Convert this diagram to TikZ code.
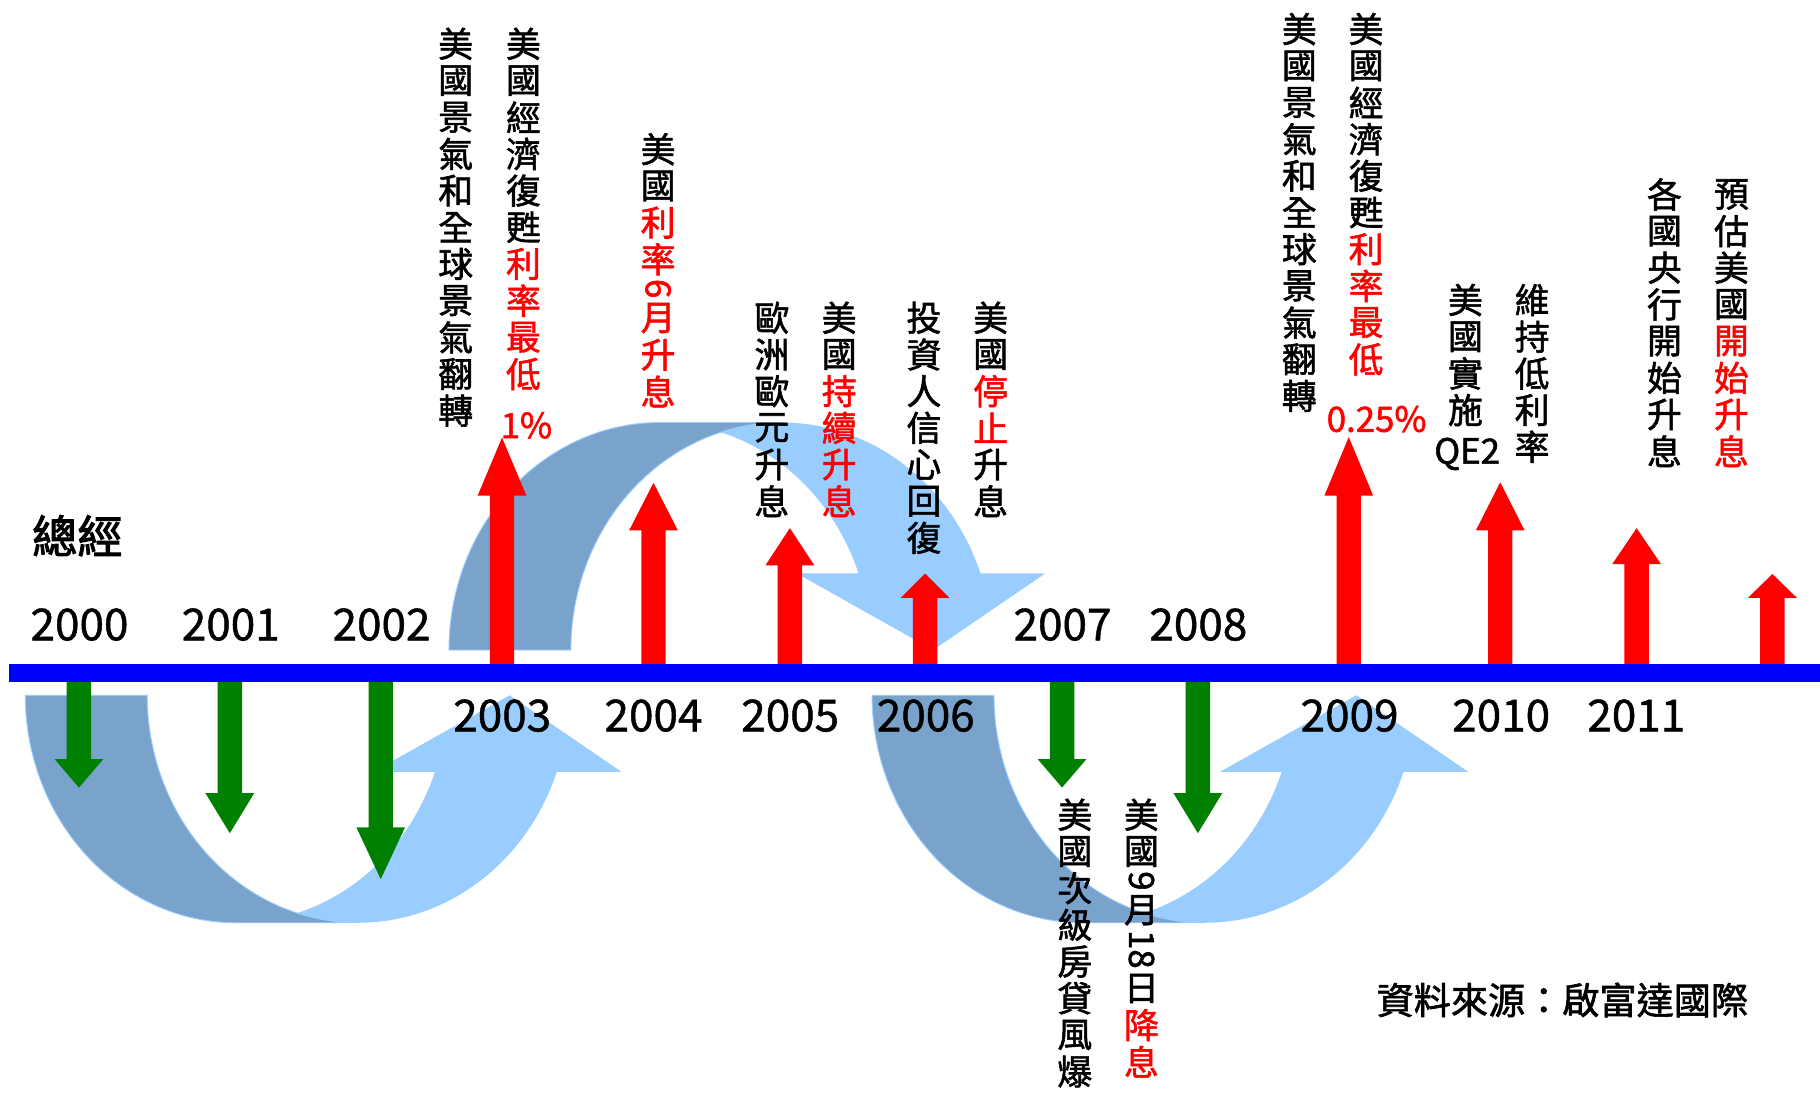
\documentclass[tikz,border=0pt]{standalone}
\usepackage{fontspec}
\setmainfont{Noto Sans CJK TC}[FakeBold=1.0]
\newfontfamily\titlefont{Noto Sans CJK TC}[FakeBold=2.2]
\newfontfamily\colfamily{Noto Sans CJK TC}[FakeBold=1.6]
\usepackage{graphicx}
\definecolor{lblue}{HTML}{99CCFF}
\definecolor{dblue}{HTML}{7AA3CC}
\definecolor{axisblue}{HTML}{0000FF}
\definecolor{ared}{HTML}{FF0000}
\definecolor{agreen}{HTML}{008000}
\newlength\vpitch
\setlength\vpitch{31.6pt}
\def\vtc{black}
\newcommand\colfont{\colfamily\fontsize{30}{31.6}\selectfont}
\newcommand\vcj[1]{\hbox to\vpitch{\hss\vbox to\vpitch{\vss\hbox{\color{\vtc}#1}\vss}\hss}}
\newcommand\vlat[1]{\vbox{\kern1.2pt\hbox to\vpitch{\hss\color{\vtc}\rotatebox{-90}{#1}\hss}\kern1.2pt}}
\makeatletter
\newcommand\vtxt[1]{\vtxt@#1\relax}
\def\vtxt@#1{\ifx#1\relax\else\vcj{#1}\expandafter\vtxt@\fi}
\makeatother
\newcommand\vcolumn[1]{\vbox{\offinterlineskip#1}}
\newcommand\curvedarrowshape{%
  \fill[dblue, draw=lblue, line width=0.8pt] (21.8,599)
    -- plot[domain=180:90,samples=60] ({203.56+181.76*cos(\x)},{599+196*sin(\x)})
    -- plot[domain=90:180,samples=60] ({308.56+181.76*cos(\x)},{599+196*sin(\x)}) -- cycle;
  \fill[lblue] (439,599) -- (535.5,665)
    -- plot[domain=19.68:106.79,samples=60] ({308.56+181.76*cos(\x)},{599+196*sin(\x)})
    -- plot[domain=73.21:19.68,samples=60] ({203.56+181.76*cos(\x)},{599+196*sin(\x)})
    -- (321.5,665) -- cycle;
}
\newcommand\uparr[3]{\fill[ared] (#1-10.5,580) -- (#1-10.5,#3) -- (#1-21,#3) -- (#1,#2) -- (#1+21,#3) -- (#1+10.5,#3) -- (#1+10.5,580) -- cycle;}
\newcommand\downarr[3]{\fill[agreen] (#1-10.5,580) -- (#1-10.5,#2) -- (#1-21,#2) -- (#1,#3) -- (#1+21,#2) -- (#1+10.5,#2) -- (#1+10.5,580) -- cycle;}
\tikzset{
  vcol/.style={anchor=north, inner sep=0pt, outer sep=0pt, font=\colfont},
  yr/.style={anchor=base, inner sep=0pt, font=\fontsize{38}{38}\selectfont},
  lat/.style={anchor=base, inner sep=0pt, font=\colfamily\fontsize{30}{30}\selectfont}
}
\begin{document}
\begin{tikzpicture}[x=1pt,y=-1pt]
\useasboundingbox (0,0) rectangle (1568,941.7);
\fill[white] (0,0) rectangle (1568,941.7);
% curved arrows
\begin{scope}\curvedarrowshape\end{scope}
\begin{scope}[shift={(365,1159)}, yscale=-1]\curvedarrowshape\end{scope}
\begin{scope}[shift={(729.5,0)}]\curvedarrowshape\end{scope}
% red up arrows
\uparr{432.5}{377}{427}
\uparr{563}{416}{457}
\uparr{680.5}{455}{487}
\uparr{797}{494}{515}
\uparr{1162}{376.5}{427}
\uparr{1292.5}{415.5}{457}
\uparr{1410}{455}{486}
\uparr{1527}{494.5}{515}
% green down arrows
\downarr{68}{654}{678.5}
\downarr{198}{683.4}{717.8}
\downarr{328}{712.7}{757.5}
\downarr{915}{654}{678.5}
\downarr{1032}{683.4}{717.8}
% axis
\fill[axisblue] (8,572.4) rectangle (1575,587.4);
% years
\node[yr] (y2000) at (68.5,551.7) {2000};
\node[yr] (y2001) at (198.8,551.7) {2001};
\node[yr] (y2002) at (328.7,551.7) {2002};
\node[yr] (y2003) at (432.7,630.1) {2003};
\node[yr] (y2004) at (563,630.1) {2004};
\node[yr] (y2005) at (680.8,630.1) {2005};
\node[yr] (y2006) at (797.6,630.1) {2006};
\node[yr] (y2007) at (915.4,551.7) {2007};
\node[yr] (y2008) at (1032.4,551.7) {2008};
\node[yr] (y2009) at (1162.7,630.1) {2009};
\node[yr] (y2010) at (1293.3,630.1) {2010};
\node[yr] (y2011) at (1409.7,630.1) {2011};
% title and source
\node[inner sep=0pt, font=\titlefont\fontsize{39}{39}\selectfont] (title) at (66.7,461.5) {總經};
\node[inner sep=0pt, font=\colfamily\fontsize{32}{32}\selectfont] (src) at (1346,861.5) {資料來源：啟富達國際};
% vertical columns
\node[vcol] (cA) at (392.6,22) {\vcolumn{\vtxt{美國景氣和全球景氣翻轉}}};
\node[vcol] (cB) at (451,22) {\vcolumn{\vtxt{美國經濟復甦}{\def\vtc{ared}\vtxt{利率最低}}}};
\node[lat, text=ared] (pB) at (453.5,377.5) {1\%};
\node[vcol] (cC) at (567,112.8) {\vcolumn{\vtxt{美國}{\def\vtc{ared}\vtxt{利率}\vlat{6}\vtxt{月升息}}}};
\node[vcol] (cD) at (665,258) {\vcolumn{\vtxt{歐洲歐元升息}}};
\node[vcol] (cE) at (723,258) {\vcolumn{\vtxt{美國}{\def\vtc{ared}\vtxt{持續升息}}}};
\node[vcol] (cF) at (796,258) {\vcolumn{\vtxt{投資人信心回復}}};
\node[vcol] (cG) at (853.5,258) {\vcolumn{\vtxt{美國}{\def\vtc{ared}\vtxt{停止}}\vtxt{升息}}};
\node[vcol] (cH) at (1119.4,9.3) {\vcolumn{\vtxt{美國景氣和全球景氣翻轉}}};
\node[vcol] (cI) at (1177,9.3) {\vcolumn{\vtxt{美國經濟復甦}{\def\vtc{ared}\vtxt{利率最低}}}};
\node[lat, text=ared] (pI) at (1186,372) {0.25\%};
\node[vcol] (cJ) at (1262.5,242.7) {\vcolumn{\vtxt{美國實施}}};
\node[lat] (qe) at (1264,399.5) {QE2};
\node[vcol] (cK) at (1320,242.7) {\vcolumn{\vtxt{維持低利率}}};
\node[vcol] (cL) at (1434,151.7) {\vcolumn{\vtxt{各國央行開始升息}}};
\node[vcol] (cM) at (1491.7,151.7) {\vcolumn{\vtxt{預估美國}{\def\vtc{ared}\vtxt{開始升息}}}};
\node[vcol] (cN) at (926,686.2) {\vcolumn{\vtxt{美國次級房貸風爆}}};
\node[vcol] (cO) at (983.4,686.2) {\vcolumn{\vtxt{美國}\vlat{9}\vtxt{月}\vlat{18}\vtxt{日}{\def\vtc{ared}\vtxt{降息}}}};
\end{tikzpicture}
\end{document}
